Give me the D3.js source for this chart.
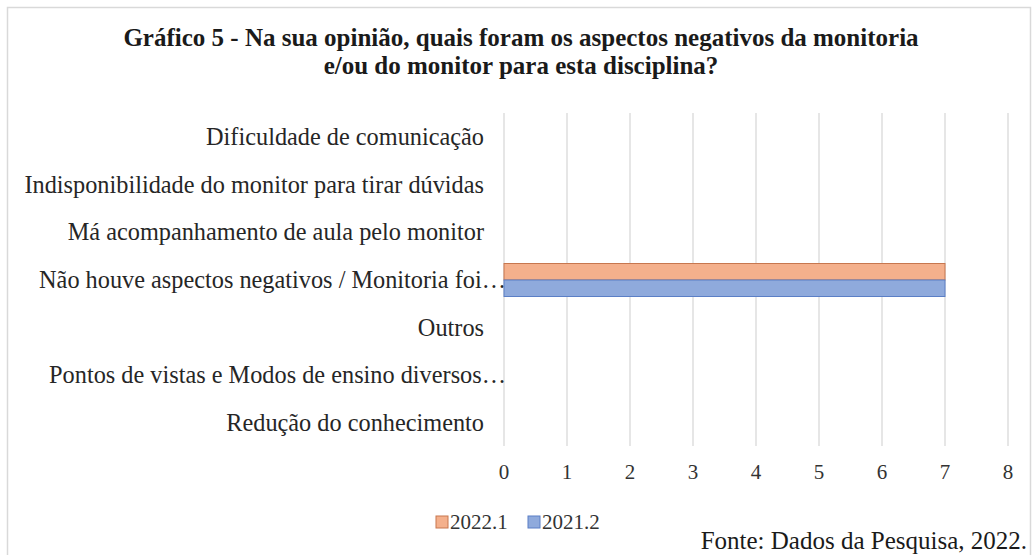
<!DOCTYPE html>
<html><head><meta charset="utf-8">
<script src="https://cdn.jsdelivr.net/npm/d3@7"></script>
<style>
html,body{margin:0;padding:0;background:#fff;}
svg{display:block;}
</style></head>
<body>
<svg id="c" width="1033" height="555"></svg>
<script>
const titleLines = ["Gráfico 5 - Na sua opinião, quais foram os aspectos negativos da monitoria", "e/ou do monitor para esta disciplina?"];
const categories = [
  "Dificuldade de comunicação",
  "Indisponibilidade do monitor para tirar dúvidas",
  "Má acompanhamento de aula pelo monitor",
  "Não houve aspectos negativos / Monitoria foi…",
  "Outros",
  "Pontos de vistas e Modos de ensino diversos…",
  "Redução do conhecimento"
];
const seriesNames = ["2022.1", "2021.2"];
const values2022_1 = [0, 0, 0, 7, 0, 0, 0];
const values2021_2 = [0, 0, 0, 7, 0, 0, 0];
const xTicks = [0, 1, 2, 3, 4, 5, 6, 7, 8];
const source = "Fonte: Dados da Pesquisa, 2022.";

const fills = ["#F4B08C", "#8FAADC"];
const strokes = ["#C7774F", "#5B7FC6"];
const series = [values2022_1, values2021_2];

const svg = d3.select("#c");
const serif = "'Liberation Serif','Times New Roman',serif";

// border
svg.append("path").attr("d", "M7.5,560 V7.5 H1030.5 V560")
  .attr("fill", "none").attr("stroke", "#d9d9d9").attr("stroke-width", 1.5);

// title
svg.append("g").selectAll("text").data(titleLines).join("text")
  .attr("x", 521).attr("y", (d, i) => 46 + i * 28)
  .attr("text-anchor", "middle").attr("font-family", serif)
  .attr("font-weight", "bold").attr("font-size", 25).attr("fill", "#1a1a1a")
  .text(d => d);

const x = d3.scaleLinear().domain([0, 8]).range([504, 1008]);
const y = d3.scaleBand().domain(categories).range([113, 447]);

// gridlines
svg.append("g").selectAll("line").data(xTicks).join("line")
  .attr("x1", d => x(d)).attr("x2", d => x(d))
  .attr("y1", 113).attr("y2", 446)
  .attr("stroke", "#d9d9d9").attr("stroke-width", 1.3);

// category labels
svg.append("g").selectAll("text").data(categories).join("text")
  .attr("x", d => d.endsWith("…") ? 506 : 484)
  .attr("y", d => y(d) + y.bandwidth() / 2 + 8)
  .attr("text-anchor", "end").attr("font-family", serif)
  .attr("font-size", 24.3).attr("fill", "#262626")
  .text(d => d);

// bars
const barH = 16.5;
series.forEach((vals, si) => {
  svg.append("g").selectAll("rect").data(categories).join("rect")
    .attr("x", x(0))
    .attr("y", d => y(d) + y.bandwidth() / 2 - barH + si * barH)
    .attr("width", (d, i) => x(vals[i]) - x(0))
    .attr("height", (d, i) => vals[i] > 0 ? barH : 0)
    .attr("fill", fills[si]).attr("stroke", strokes[si]).attr("stroke-width", 1);
});

// x axis labels
svg.append("g").selectAll("text").data(xTicks).join("text")
  .attr("x", d => x(d)).attr("y", 479)
  .attr("text-anchor", "middle").attr("font-family", serif)
  .attr("font-size", 21).attr("fill", "#333")
  .text(d => d);

// legend
const lg = svg.append("g");
const legX = [436, 528];
seriesNames.forEach((n, i) => {
  lg.append("rect").attr("x", legX[i]).attr("y", 516).attr("width", 12).attr("height", 12)
    .attr("fill", fills[i]).attr("stroke", strokes[i]).attr("stroke-width", 1);
  lg.append("text").attr("x", legX[i] + 14).attr("y", 529)
    .attr("font-family", serif).attr("font-size", 21).attr("fill", "#333").text(n);
});

// source
svg.append("text").attr("x", 1027).attr("y", 549).attr("text-anchor", "end")
  .attr("font-family", serif).attr("font-size", 25).attr("fill", "#1a1a1a").text(source);
</script>
</body></html>
